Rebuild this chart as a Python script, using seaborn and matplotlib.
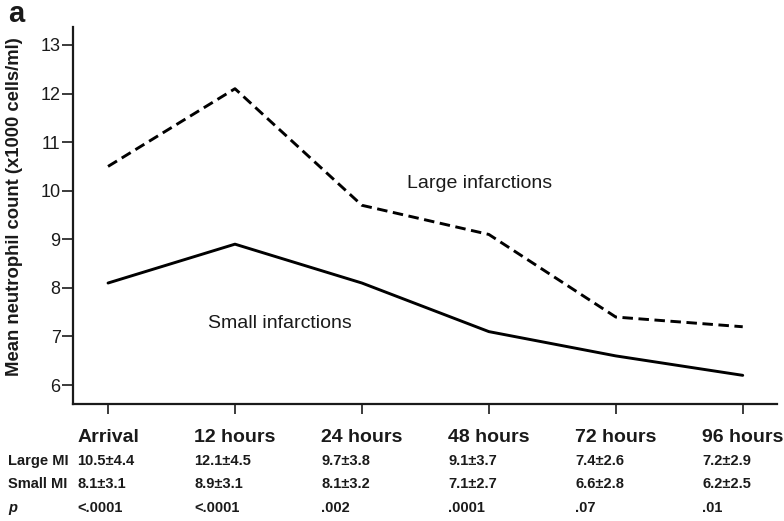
import matplotlib
matplotlib.use("Agg")
import matplotlib.pyplot as plt
import seaborn as sns
import pandas as pd

# Time points and group means (x1000 cells/ml)
timepoints = ["Arrival", "12 hours", "24 hours", "48 hours", "72 hours", "96 hours"]
large_mean = [10.5, 12.1, 9.7, 9.1, 7.4, 7.2]
large_sd = [4.4, 4.5, 3.8, 3.7, 2.6, 2.9]
small_mean = [8.1, 8.9, 8.1, 7.1, 6.6, 6.2]
small_sd = [3.1, 3.1, 3.2, 2.7, 2.8, 2.5]
p_values = ["<.0001", "<.0001", ".002", ".0001", ".07", ".01"]
y_ticks = [6, 7, 8, 9, 10, 11, 12, 13]

TXT = "#1a1a1a"

sns.set_style("ticks")
plt.rcParams["font.family"] = ["Liberation Sans", "DejaVu Sans"]

df = pd.DataFrame({
    "idx": list(range(len(timepoints))) * 2,
    "count": large_mean + small_mean,
    "group": ["Large infarctions"] * len(timepoints) + ["Small infarctions"] * len(timepoints),
})

W, H = 784, 521
fig = plt.figure(figsize=(W / 100, H / 100), dpi=100)
ax = fig.add_axes([73 / W, 1 - 404 / H, (777 - 73) / W, (404 - 27) / H])

sns.lineplot(
    data=df, x="idx", y="count", style="group",
    style_order=["Small infarctions", "Large infarctions"],
    dashes={"Small infarctions": "", "Large infarctions": (3.6, 1.9)},
    color="black", linewidth=2.1, legend=False, ax=ax,
)

ax.set_xlim(-0.276, 5.27)
ax.set_ylim(5.61, 13.37)
ax.set_yticks(y_ticks)
ax.set_yticklabels([str(v) for v in y_ticks], fontsize=13, color=TXT)
ax.set_xticks(range(len(timepoints)))
ax.set_xticklabels(timepoints, fontsize=14, fontweight="bold", color=TXT)
ax.tick_params(axis="y", length=8, width=1.2, pad=1, color=TXT)
ax.tick_params(axis="x", length=7, width=1.2, pad=11, color=TXT)
ax.set_xlabel("")
ax.set_ylabel("Mean neutrophil count (x1000 cells/ml)", fontsize=13.3,
              fontweight="bold", color=TXT)
ax.yaxis.set_label_coords(-(73 - 23) / (777 - 73), 1 - (207 - 27) / (404 - 27))
sns.despine(ax=ax)
for s in ("left", "bottom"):
    ax.spines[s].set_linewidth(1.6)
    ax.spines[s].set_color(TXT)

ax.text(407 / W, 1 - 184 / H, "Large infarctions", transform=fig.transFigure,
        fontsize=14, color=TXT, ha="left", va="center")
ax.text(208 / W, 1 - 323 / H, "Small infarctions", transform=fig.transFigure,
        fontsize=14, color=TXT, ha="left", va="center")

fig.text(8 / W, 1 - 14 / H, "a", fontsize=21, fontweight="bold", color=TXT,
         ha="left", va="center")

# Summary table under the axis, aligned with the left edge of each time label
fig.canvas.draw()
renderer = fig.canvas.get_renderer()
lefts = [lab.get_window_extent(renderer).x0 / W for lab in ax.get_xticklabels()]

row_y = [461, 484, 508]
row_names = ["Large MI", "Small MI", "p"]
rows = [
    [f"{m}\u00b1{s}" for m, s in zip(large_mean, large_sd)],
    [f"{m}\u00b1{s}" for m, s in zip(small_mean, small_sd)],
    p_values,
]
for name, vals, yy in zip(row_names, rows, row_y):
    fy = 1 - yy / H
    fig.text(8 / W, fy, name, fontsize=10.5, fontweight="bold", color=TXT,
             ha="left", va="center", style="italic" if name == "p" else "normal")
    for x0, v in zip(lefts, vals):
        fig.text(x0, fy, v, fontsize=10.5, fontweight="bold", color=TXT,
                 ha="left", va="center")

fig.savefig("out.png", dpi=100)
